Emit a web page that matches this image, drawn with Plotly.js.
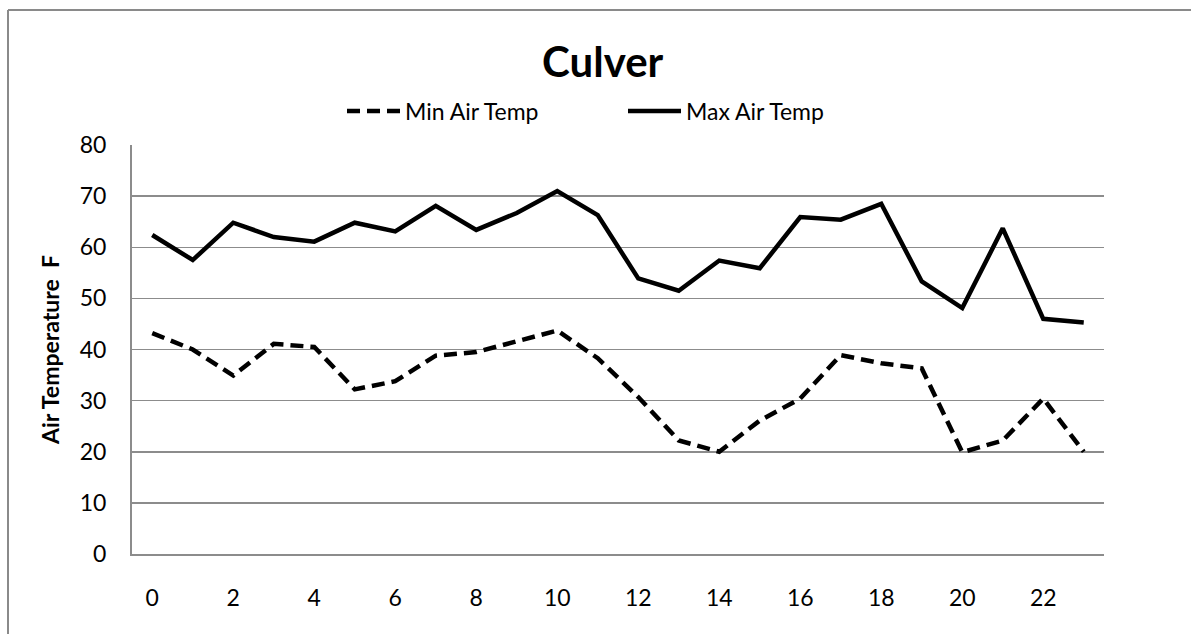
<!DOCTYPE html>
<html>
<head>
<meta charset="utf-8">
<script src="https://cdn.plot.ly/plotly-3.0.1.min.js"></script>
<style>
  html, body { margin: 0; padding: 0; background: #fff; overflow: hidden; }
  #chart { width: 1191px; height: 634px; }
</style>
</head>
<body>
<div id="chart"></div>
<script>
const hours = [0,1,2,3,4,5,6,7,8,9,10,11,12,13,14,15,16,17,18,19,20,21,22,23];
const minAirTemp = [43.2,40.0,34.9,41.1,40.5,32.2,33.8,38.8,39.5,41.6,43.7,38.3,30.7,22.2,20.0,26.1,30.4,38.9,37.3,36.3,19.9,22.2,30.4,20.0];
const maxAirTemp = [62.4,57.5,64.8,62.0,61.1,64.8,63.1,68.1,63.4,66.7,71.0,66.3,53.9,51.5,57.4,55.9,65.9,65.4,68.5,53.3,48.1,63.7,46.0,45.3];
const xTickValues = [0,2,4,6,8,10,12,14,16,18,20,22];
const yTickValues = [0,10,20,30,40,50,60,70,80];

const FONT = 'Lato, "Noto Sans", sans-serif';
const GRID = '#8c8c8c';

const traces = [
  { x: hours, y: minAirTemp, name: 'Min Air Temp', type: 'scatter', mode: 'lines',
    line: { color: '#000', width: 4.5, dash: '13px,7px' } },
  { x: hours, y: maxAirTemp, name: 'Max Air Temp', type: 'scatter', mode: 'lines',
    line: { color: '#000', width: 4.5 } }
];

// outer chart-area frame (left and top edges visible; the rest is cropped)
const fx0 = (8 - 132) / 972, fx1 = (1220 - 132) / 972;
const fy0 = (554 - 660) / 409, fy1 = (554 - 10) / 409;

const layout = {
  width: 1191, height: 634,
  paper_bgcolor: '#fff', plot_bgcolor: '#fff',
  margin: { l: 132, r: 87, t: 145, b: 80 },
  font: { family: FONT, size: 23, color: '#000' },
  title: { text: '<b>Culver</b>', font: { family: FONT, size: 42, color: '#000' },
           x: 0.506, xref: 'container', xanchor: 'center',
           y: 1 - 62/634, yref: 'container', yanchor: 'middle' },
  showlegend: true,
  legend: { orientation: 'h', x: (342-132)/972, xanchor: 'left', y: 1.083, yanchor: 'middle',
            itemwidth: 53, entrywidth: 213, entrywidthmode: 'pixels',
            font: { family: FONT, size: 23, color: '#000' }, bgcolor: 'rgba(0,0,0,0)' },
  shapes: [
    { type: 'line', xref: 'paper', yref: 'paper', x0: fx0, x1: fx0, y0: fy0, y1: fy1,
      line: { color: '#8a8a8a', width: 2 } },
    { type: 'line', xref: 'paper', yref: 'paper', x0: fx0, x1: fx1, y0: fy1, y1: fy1,
      line: { color: '#8a8a8a', width: 2 } }
  ],
  xaxis: { range: [-0.5, 23.5], tickmode: 'array', tickvals: xTickValues, ticktext: xTickValues.map(String),
           showgrid: false, zeroline: false, showline: true, linecolor: GRID, linewidth: 2,
           ticks: '', ticklabelstandoff: 22, tickfont: { family: FONT, size: 23, color: '#000' },
           fixedrange: true },
  yaxis: { range: [0, 80], tickmode: 'array', tickvals: yTickValues, ticktext: yTickValues.map(String),
           showgrid: true, gridcolor: GRID, gridwidth: 1.5, zeroline: false,
           showline: true, linecolor: GRID, linewidth: 2,
           ticks: '', ticklabelstandoff: 19, tickfont: { family: FONT, size: 23, color: '#000' },
           title: { text: '<b>Air Temperature \u00a0F</b>', font: { family: FONT, size: 23, color: '#000' }, standoff: 14 },
           fixedrange: true }
};

Plotly.newPlot('chart', traces, layout, { displayModeBar: false, staticPlot: true });
</script>
</body>
</html>
